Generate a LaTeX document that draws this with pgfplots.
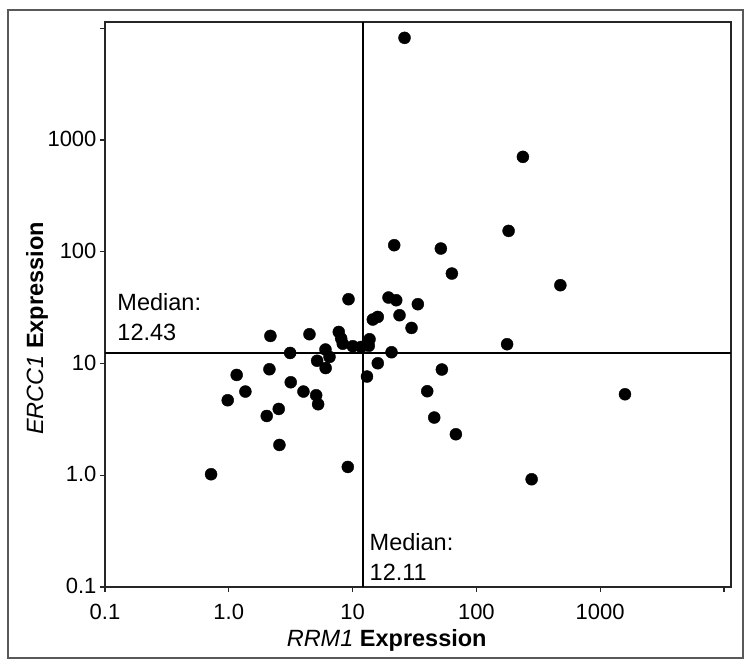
\documentclass[border=0pt]{standalone}
\usepackage{pgfplots}
\pgfplotsset{compat=1.18}
\usepackage{fontspec}
\setmainfont{Liberation Sans}
\begin{document}
\begin{tikzpicture}
\path[use as bounding box] (0,0) rectangle (750pt,671pt);
\draw[line width=1.3pt, black!65] (8pt,13pt) rectangle (743pt,661pt);
\begin{axis}[
  at={(105pt,84pt)}, anchor=south west,
  scale only axis, width=626pt, height=565pt,
  xmode=log, ymode=log,
  xmin=0.1, xmax=11400, ymin=0.1, ymax=11400,
  xtick={0.1,1,10,100,1000,10000},
  xticklabels={0.1,1.0,10,100,1000,{}},
  ytick={0.1,1,10,100,1000,10000},
  yticklabels={0.1,1.0,10,100,1000,{}},
  xminorticks=false, yminorticks=false,
  xtick pos=left, ytick pos=left,
  tick align=outside,
  major tick length=5pt,
  axis line style={black!85, line width=1.2pt},
  tick style={black!85, line width=1.2pt},
  tick label style={font=\fontsize{22}{26}\selectfont},
  xticklabel style={yshift=-9pt},
  yticklabel style={yshift=1pt},
  xlabel={\textit{RRM1} \textbf{Expression}},
  ylabel={\textit{ERCC1} \textbf{Expression}},
  xlabel style={at={(axis description cs:0.45,-0.1057)}, anchor=base, font=\fontsize{23.5}{28}\selectfont},
  ylabel style={at={(axis description cs:-0.099,0.4575)}, anchor=base, rotate=0, font=\fontsize{23.5}{28}\selectfont},
  clip=false,
]
\addplot[line width=2.2pt, black] coordinates {(0.1,12.43) (11400,12.43)};
\addplot[line width=2.2pt, black] coordinates {(12.11,0.1) (12.11,11400)};
\addplot[only marks, mark=*, mark size=6pt, black] table[row sep=\\] {
x y \\
2.169 17.67 \\
3.130 12.44 \\
1.158 7.906 \\
2.129 8.89 \\
1.362 5.615 \\
0.980 4.693 \\
3.166 6.80 \\
4.010 5.615 \\
5.08 5.20 \\
5.27 4.32 \\
2.532 3.923 \\
2.025 3.395 \\
2.565 1.868 \\
0.719 1.021 \\
9.15 1.187 \\
4.484 18.30 \\
9.27 37.64 \\
14.57 24.77 \\
15.98 26.14 \\
23.94 27.06 \\
7.737 19.18 \\
8.09 16.74 \\
8.33 15.04 \\
10.04 14.29 \\
11.73 14.08 \\
13.70 16.50 \\
13.52 14.43 \\
6.04 13.35 \\
6.51 11.46 \\
5.17 10.59 \\
6.06 9.11 \\
20.63 12.62 \\
15.98 10.06 \\
13.07 7.65 \\
182.1 153.9 \\
21.69 114.6 \\
51.64 107.0 \\
63.4 63.9 \\
19.51 38.98 \\
22.52 36.88 \\
33.67 33.96 \\
29.94 20.83 \\
177.1 14.89 \\
52.62 8.84 \\
40.10 5.65 \\
45.67 3.286 \\
68.30 2.328 \\
26.28 8222 \\
237.6 707.5 \\
476.9 50.23 \\
1587 5.31 \\
279.4 0.921 \\
};
\node[anchor=base west, inner sep=0pt, font=\fontsize{23.5}{28}\selectfont] at (axis cs:0.1257,29.6) {Median:};
\node[anchor=base west, inner sep=0pt, font=\fontsize{23.5}{28}\selectfont] at (axis cs:0.1257,16.2) {12.43};
\node[anchor=base west, inner sep=0pt, font=\fontsize{23.5}{28}\selectfont] at (axis cs:13.7,0.21) {Median:};
\node[anchor=base west, inner sep=0pt, font=\fontsize{23.5}{28}\selectfont] at (axis cs:13.7,0.1148) {12.11};
\end{axis}
\end{tikzpicture}
\end{document}
